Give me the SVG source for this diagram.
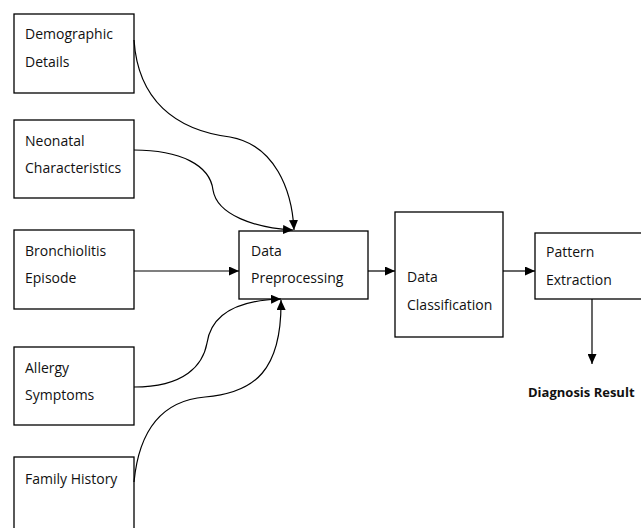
<svg xmlns="http://www.w3.org/2000/svg" width="641" height="528" viewBox="0 0 641 528">
<defs>
<marker id="ah" markerUnits="userSpaceOnUse" markerWidth="11" markerHeight="9" refX="10" refY="4.5" orient="auto" viewBox="0 0 11 9">
<path d="M0,0 L10,4.5 L0,9 z" fill="#000"/>
</marker>
<style>
.box{fill:#fff;stroke:#000;stroke-width:1.3}
.t{font-family:"Open Sans","Liberation Sans",sans-serif;font-size:14px;fill:#111}
.b{font-family:"Open Sans","Liberation Sans",sans-serif;font-size:13px;font-weight:bold;fill:#111}
.c{fill:none;stroke:#000;stroke-width:1.2;marker-end:url(#ah)}
</style>
</defs>
<rect width="641" height="528" fill="#fff"/>
<g id="demographic">
<rect class="box" x="14" y="14" width="120" height="79"/>
<text class="t" x="25" y="39">Demographic</text>
<text class="t" x="25" y="67">Details</text>
</g>
<g id="neonatal">
<rect class="box" x="14" y="120" width="120" height="78"/>
<text class="t" x="25" y="146">Neonatal</text>
<text class="t" x="25" y="173">Characteristics</text>
</g>
<g id="bronchiolitis">
<rect class="box" x="14" y="230" width="120" height="79"/>
<text class="t" x="25" y="256">Bronchiolitis</text>
<text class="t" x="25" y="283">Episode</text>
</g>
<g id="allergy">
<rect class="box" x="14" y="347" width="120" height="78"/>
<text class="t" x="25" y="373">Allergy</text>
<text class="t" x="25" y="400">Symptoms</text>
</g>
<g id="family">
<rect class="box" x="14" y="457" width="120" height="90"/>
<text class="t" x="25" y="484">Family History</text>
</g>
<g id="preprocessing">
<rect class="box" x="239" y="231" width="129" height="68"/>
<text class="t" x="251" y="256">Data</text>
<text class="t" x="251" y="283">Preprocessing</text>
</g>
<g id="classification">
<rect class="box" x="395" y="212" width="108" height="125"/>
<text class="t" x="407" y="282">Data</text>
<text class="t" x="407" y="310">Classification</text>
</g>
<g id="pattern">
<rect class="box" x="535" y="233" width="120" height="66"/>
<text class="t" x="546" y="257">Pattern</text>
<text class="t" x="546" y="285">Extraction</text>
</g>
<g id="diagnosis">
<text class="b" x="528" y="397">Diagnosis Result</text>
</g>
<g id="connectors">
<path class="c" d="M134,40 C138,100 175,130 230,137 C275,145 292,190 294,230"/>
<path class="c" d="M134,150 C180,150 210,165 213,190 C217,215 255,228 293,230"/>
<path class="c" d="M134,271 L239,271"/>
<path class="c" d="M134,387 C185,387 203,365 207,343 C212,310 245,300 281,299"/>
<path class="c" d="M134,482 C140,420 170,400 205,397 C255,393 282,370 281,300"/>
<path class="c" d="M368,271 L395,271"/>
<path class="c" d="M503,271 L535,271"/>
<path class="c" d="M592,299 L592,364"/>
</g>
</svg>
